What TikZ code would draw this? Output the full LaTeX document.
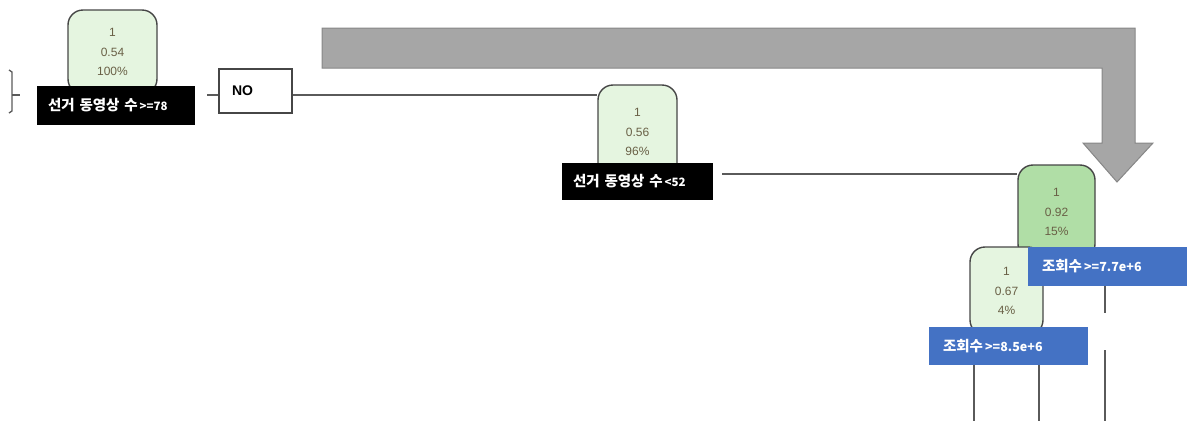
\documentclass[tikz,border=0pt]{standalone}
\usepackage{fontspec}
\setmainfont{Liberation Sans}
\newfontfamily\kr{Noto Sans CJK KR}
\definecolor{lightg}{RGB}{229,245,224}
\definecolor{darkg}{RGB}{176,222,166}
\definecolor{bordergray}{RGB}{70,70,70}
\definecolor{numcol}{RGB}{105,96,70}
\definecolor{linegray}{RGB}{90,90,90}
\definecolor{bluelab}{RGB}{68,114,196}
\definecolor{arrowfill}{RGB}{166,166,166}
\definecolor{arrowdraw}{RGB}{135,135,135}
\begin{document}
\begin{tikzpicture}[x=1pt,y=-1pt,
  prob/.style={draw=bordergray, line width=1.4pt, rounded corners=15pt, fill=lightg,
    align=center, font=\fontsize{12}{19.5}\selectfont, text=numcol, inner sep=0pt},
  blacklab/.style={fill=black, text=white, inner xsep=11pt, inner ysep=0pt, align=left,
    font=\kr\bfseries\fontsize{14.5}{15}\selectfont},
  bluebox/.style={fill=bluelab, text=white, inner xsep=14pt, inner ysep=0pt, align=left,
    font=\kr\bfseries\fontsize{14.5}{15}\selectfont},
  nobox/.style={draw=bordergray, line width=1.2pt, fill=white, inner xsep=13pt, inner ysep=0pt,
    align=left, font=\bfseries\fontsize{14}{15}\selectfont},
  conn/.style={draw=linegray, line width=1.6pt}]
\useasboundingbox (0,0) rectangle (1192,421);

% big grey arrow
\draw[fill=arrowfill, draw=arrowdraw, line width=1pt]
  (322,28) -- (1135,28) -- (1135,143) -- (1153,143) -- (1117,182) -- (1083,143)
  -- (1102,143) -- (1102,68) -- (322,68) -- cycle;

% left bracket
\draw[conn, line width=1.3pt] (9,70) -- (12,72) -- (12,111) -- (9,113);
\draw[conn, line width=1.3pt] (12,95) -- (20,95);

% root
\node[prob, minimum width=89pt, minimum height=84pt] (n1) at (112.5,52) {1\\0.54\\100\%};
\node[blacklab, text width=136pt, minimum height=39pt] (l1) at (116,105.5)
  {선거 동영상 수{\fontsize{11.5}{11}\selectfont\,>=78}};

% NO box
\node[nobox, text width=47pt, minimum height=44pt] (no) at (255.5,91) {NO};
\coordinate (t1) at (207,95);
\draw[conn, line width=1.3pt] (t1) -- (t1 -| no.west);

% node 2
\node[prob, minimum width=79pt, minimum height=94pt] (n2) at (637.5,132) {1\\0.56\\96\%};
\node[blacklab, text width=129pt, minimum height=37pt] (l2) at (637.5,181.5)
  {선거 동영상 수{\fontsize{11.5}{11}\selectfont\,<52}};
\draw[conn] (no.east |- t1) -- (t1 -| n2.west);

% node 3
\node[prob, fill=darkg, minimum width=77pt, minimum height=94pt] (n3) at (1056.5,212) {1\\0.92\\15\%};
\coordinate (c2) at (722,174);
\draw[conn] (c2) -- (c2 -| n3.west);

% node 4
\node[prob, minimum width=73pt, minimum height=88pt] (n4) at (1006.5,291) {1\\0.67\\4\%};

% blue labels
\node[bluebox, text width=131pt, minimum height=39pt] (b1) at (1107.5,266.5)
  {조회수{\fontsize{12.5}{11}\selectfont\,>=7.7e+6}};
\node[bluebox, text width=131pt, minimum height=38pt] (b2) at (1008.5,346)
  {조회수{\fontsize{12.5}{11}\selectfont\,>=8.5e+6}};

% vertical lines
\coordinate (v1) at (974,421);
\coordinate (v2) at (1039,421);
\coordinate (v3a) at (1105,313);
\coordinate (v3b) at (1105,350);
\coordinate (v3c) at (1105,421);
\draw[conn] (v1 |- b2.south) -- (v1);
\draw[conn] (v2 |- b2.south) -- (v2);
\draw[conn] (v3a |- b1.south) -- (v3a);
\draw[conn] (v3b) -- (v3c);
\end{tikzpicture}
\end{document}
